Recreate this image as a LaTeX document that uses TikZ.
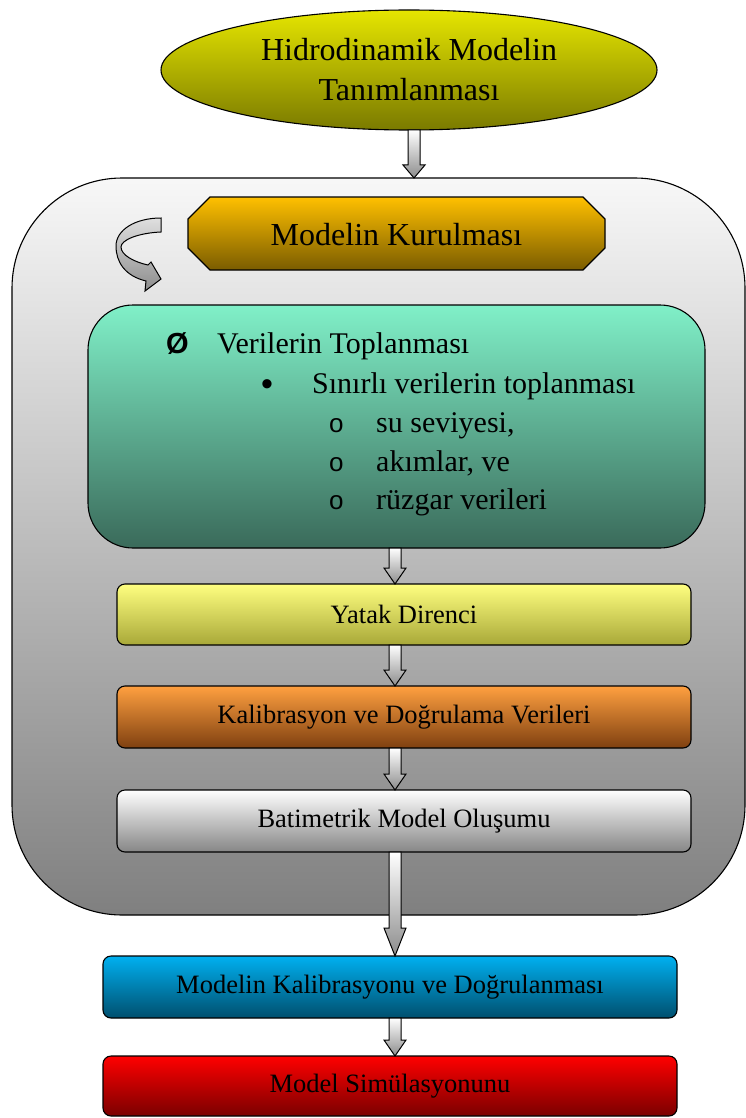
\documentclass[tikz,border=0pt]{standalone}
\usepackage{fontspec}
\setmainfont{Liberation Serif}
\newfontfamily\symfont{Liberation Sans}
\usetikzlibrary{shapes.geometric,calc}

% colours of the shaded boxes
\definecolor{ellTop}{HTML}{E6E600}
\definecolor{ellBot}{HTML}{7A7A00}
\definecolor{octTop}{HTML}{FFC000}
\definecolor{octBot}{HTML}{7A5C00}
\definecolor{grnTop}{HTML}{80F0C8}
\definecolor{grnBot}{HTML}{3A6A5A}
\definecolor{yelTop}{HTML}{FFFF80}
\definecolor{yelBot}{HTML}{A8A838}
\definecolor{orgTop}{HTML}{FFA040}
\definecolor{orgBot}{HTML}{7F4010}
\definecolor{bluTop}{HTML}{00B0F0}
\definecolor{bluBot}{HTML}{004F6E}
\definecolor{redTop}{HTML}{FF0000}
\definecolor{redBot}{HTML}{7A0000}

% block arrow: [head length]{upper point}{lower point}{x reference}
\newcommand\blockarr[4][16]{%
  \path[barrow] let \p1=(#2 -| #4), \p2=(#3 -| #4) in
    ({\x1-6pt},\y1) -- ({\x1+6pt},\y1) -- ({\x1+6pt},{\y2+#1pt})
    -- ({\x1+11pt},{\y2+#1pt}) -- (\x2,\y2) -- ({\x1-11pt},{\y2+#1pt})
    -- ({\x1-6pt},{\y2+#1pt}) -- cycle;}

\begin{document}
\begin{tikzpicture}[x=1pt,y=-1pt,
  outline/.style={draw=black,line width=1.1pt},
  stepbox/.style={outline,rounded corners=8pt,outer sep=0pt,inner sep=0pt,
    minimum width=574,minimum height=61,font=\fontsize{26.5}{30}\selectfont},
  listtxt/.style={anchor=base west,inner sep=0pt,font=\fontsize{30}{34}\selectfont},
  marktxt/.style={anchor=base west,inner sep=0pt,font=\symfont\fontsize{26}{30}\selectfont},
  barrow/.style={draw=black,line width=1pt,line join=miter,top color=white,bottom color=gray!90}]
\useasboundingbox (0,0) rectangle (746,1118);

% large frame around the model set-up steps
\node[outline,rounded corners=110pt,outer sep=0pt,inner sep=0pt,
  minimum width=733,minimum height=737,top color=white!97!black,bottom color=gray]
  (frame) at (378.5,546.5) {};

% title ellipse
\node[ellipse,outline,outer sep=0pt,inner sep=0pt,minimum width=496,minimum height=120,
  top color=ellTop,bottom color=ellBot,align=center,font=\fontsize{32}{40}\selectfont]
  (title) at (409,70) {Hidrodinamik Modelin\\Tanımlanması};

% octagonal heading
\path[outline,top color=octTop,bottom color=octBot]
  (210,197) -- (583,197) -- (605,219) -- (605,248) -- (583,270)
  -- (210,270) -- (188,248) -- (188,219) -- cycle;
\node[font=\fontsize{32}{36}\selectfont] (kur) at (396.5,235) {Modelin Kurulması};

% curved turning arrow
\path[draw=black,line width=1pt,top color=gray!25,bottom color=gray!90]
  (161,218) -- (161,232) .. controls (138,233) and (121,240) .. (121,247)
  .. controls (121,255) and (134,262) .. (148,265) -- (151,262) -- (161,279)
  -- (145,291) -- (146,281) .. controls (125,276) and (116,262) .. (116,246)
  .. controls (116,230) and (135,218) .. (161,218) -- cycle;

% data collection box
\node[outline,rounded corners=45pt,outer sep=0pt,inner sep=0pt,
  minimum width=617,minimum height=243,top color=grnTop,bottom color=grnBot]
  (data) at (396.5,426.5) {};
\node[marktxt,font=\symfont\bfseries\fontsize{29}{32}\selectfont] (b1) at (166,353) {Ø};
\node[listtxt] (t1) at (217,353) {Verilerin Toplanması};
\node[marktxt,font=\symfont\fontsize{34}{36}\selectfont] (b2) at (261,395) {•};
\node[listtxt] (t2) at (312,393) {Sınırlı verilerin toplanması};
\node[marktxt] (b3) at (329,432) {o};
\node[listtxt] (t3) at (376,432) {su seviyesi,};
\node[marktxt] (b4) at (329,471) {o};
\node[listtxt] (t4) at (376,471) {akımlar, ve};
\node[marktxt] (b5) at (329,509) {o};
\node[listtxt] (t5) at (376,509) {rüzgar verileri};

% step boxes
\node[stepbox,top color=yelTop,bottom color=yelBot] (yatak) at (404,614.5) {Yatak Direnci};
\node[stepbox,minimum height=62,top color=orgTop,bottom color=orgBot] (kal) at (404,717) {Kalibrasyon ve Doğrulama Verileri};
\node[stepbox,minimum height=62,top color=white,bottom color=gray!95] (bat) at (404,821) {Batimetrik Model Oluşumu};
\node[stepbox,minimum height=62,top color=bluTop,bottom color=bluBot] (modkal) at (390,987) {Modelin Kalibrasyonu ve Doğrulanması};
\node[stepbox,minimum height=60,top color=redTop,bottom color=redBot] (sim) at (390,1086) {Model Simülasyonunu};

% connectors
\coordinate (ax1) at (414,0);
\coordinate (ax2) at (395,0);
\blockarr[13]{title.south}{frame.north}{ax1}
\blockarr{data.south}{yatak.north}{ax2}
\blockarr{yatak.south}{kal.north}{ax2}
\blockarr{kal.south}{bat.north}{ax2}
\blockarr[28]{bat.south}{modkal.north}{ax2}
\blockarr{modkal.south}{sim.north}{ax2}
\end{tikzpicture}
\end{document}
